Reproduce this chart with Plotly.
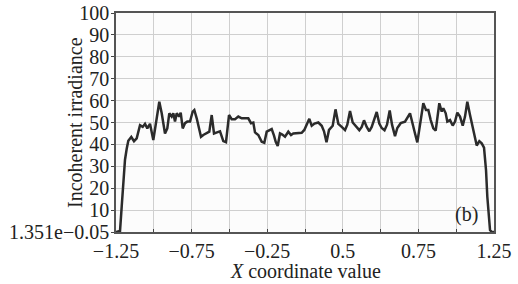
import plotly.graph_objects as go

x_coord = [-1.25, -1.2235, -1.2123, -1.2017, -1.1905, -1.1792, -1.1686, -1.1488, -1.1309, -1.1131,
           -1.0913, -1.0734, -1.0582, -1.0430, -1.0251, -1.0033, -0.9808, -0.9636, -0.9477, -0.9259,
           -0.9107, -0.8975, -0.8816, -0.8710, -0.8598, -0.8485, -0.8333, -0.8221, -0.8088, -0.7936,
           -0.7784, -0.7606, -0.7427, -0.7321, -0.7163, -0.6991, -0.6878, -0.6726, -0.6501, -0.6329,
           -0.6170, -0.6018, -0.5820, -0.5621, -0.5403, -0.5225, -0.5026, -0.4848, -0.4629, -0.4411,
           -0.4186, -0.3968, -0.3750, -0.3571, -0.3419, -0.3307, -0.3088, -0.2863, -0.2691, -0.2533,
           -0.2361, -0.2202, -0.2050, -0.1937, -0.1805, -0.1653, -0.1501, -0.1322, -0.1104, -0.0925,
           -0.0773, -0.0443, -0.0218, -0.0046, 0.0113, 0.0285, 0.0444, 0.0629, 0.0880, 0.1105,
           0.1257, 0.1422, 0.1588, 0.1833, 0.2018, 0.2203, 0.2428, 0.2646, 0.2798, 0.2977,
           0.3155, 0.3374, 0.3592, 0.3751, 0.3903, 0.4081, 0.4253, 0.4412, 0.4743, 0.4915,
           0.5073, 0.5259, 0.5424, 0.5602, 0.5755, 0.5953, 0.6105, 0.6330, 0.6614, 0.6945,
           0.7124, 0.7276, 0.7428, 0.7607, 0.7825, 0.8003, 0.8156, 0.8315, 0.8487, 0.8645,
           0.8883, 0.9042, 0.9148, 0.9306, 0.9412, 0.9591, 0.9769, 0.9921, 1.0074, 1.0252,
           1.0431, 1.0583, 1.0735, 1.0914, 1.1092, 1.1244, 1.1357, 1.1529, 1.1687, 1.1840,
           1.1972, 1.2058, 1.2151, 1.2237, 1.2349, 1.25]

irradiance = [0, 0.5, 11.6, 22, 33, 38, 41.7, 43.4, 41.5, 42.8,
              48.8, 48, 49.4, 47.3, 49.4, 42, 51, 59.5, 54.2, 45,
              47.3, 54.2, 52.7, 54.2, 50.4, 54.2, 52.7, 54.5, 47.3, 49.7,
              50.4, 50.4, 55, 55.7, 51.9, 46.6, 43.5, 44.3, 45.3, 45.8,
              53.4, 45, 45.5, 46, 41.5, 41, 53.4, 51.5, 51.5, 52.7,
              51.9, 51.9, 51.9, 49.7, 50, 45.5, 44.3, 41.2, 40.7, 45.8,
              46.6, 47, 44, 41.2, 39.3, 45, 44.5, 43.5, 45.8, 44.3,
              45, 45, 45.3, 46.6, 49, 51.7, 48.5, 49.5, 50, 48.5,
              46, 41, 46.6, 48.5, 56, 49.4, 48, 46.5, 49, 55.2,
              50, 48, 46.5, 48, 51, 48, 46, 48, 54.8, 49.5,
              47.5, 46.5, 49, 55.5, 49, 43.8, 47.5, 49.7, 50.4, 54.2,
              48.6, 45, 40.9, 48.5, 58.8, 55.7, 55.7, 51.1, 47.3, 46.3,
              58.8, 55, 56.5, 54.2, 50.4, 51.1, 48.6, 50.4, 54.5, 52.7,
              48.6, 52.7, 59.5, 53.4, 47.3, 43.5, 39.5, 41.5, 40.5, 38.5,
              28.3, 16.1, 5.5, 0.9, 0, 0]

x_tickvals = [-1.25, -1.0, -0.75, -0.5, -0.25, 0.0, 0.25, 0.5, 0.75, 1.0, 1.25]
x_ticktext = ["\u22121.25", "", "\u22120.75", "", "\u22120.25", "", "0.5", "", "0.75", "", "1.25"]
y_tickvals = [0, 10, 20, 30, 40, 50, 60, 70, 80, 90, 100]
y_ticktext = ["1.351e\u22120.05", "10", "20", "30", "40", "50", "60", "70", "80", "90", "100"]

FONT = "Liberation Serif, Times New Roman, serif"
FS = 20

fig = go.Figure()
fig.add_trace(go.Scatter(x=x_coord, y=irradiance, mode="lines",
                         line=dict(color="#2b2b2b", width=2.5),
                         showlegend=False))

fig.add_annotation(x=1.07, y=8, text="(b)", showarrow=False,
                   font=dict(family=FONT, size=FS, color="#222"))
fig.add_annotation(xref="paper", yref="paper", x=-0.11, y=0.5, text="Incoherent irradiance",
                   textangle=-90, showarrow=False, xanchor="center", yanchor="middle",
                   font=dict(family=FONT, size=FS, color="#222"))
fig.add_annotation(xref="paper", yref="paper", x=0.5, y=-0.18, text="<i>X</i> coordinate value",
                   showarrow=False, xanchor="center", yanchor="middle",
                   font=dict(family=FONT, size=FS, color="#222"))

fig.update_layout(
    width=518, height=284,
    margin=dict(l=116, r=24, t=13, b=52),
    paper_bgcolor="white", plot_bgcolor="#fcfcfc",
    font=dict(family=FONT, size=FS, color="#222"),
    xaxis=dict(range=[-1.25, 1.25], tickvals=x_tickvals, ticktext=x_ticktext,
               showgrid=True, gridcolor="#cfcfcf", gridwidth=1,
               ticks="inside", ticklen=3, tickcolor="#444",
               showline=True, linecolor="#555", linewidth=1.5, mirror=True,
               zeroline=False, automargin=False),
    yaxis=dict(range=[0, 100], tickvals=y_tickvals, ticktext=y_ticktext,
               showgrid=True, gridcolor="#cfcfcf", gridwidth=1,
               ticks="outside", ticklen=3, tickcolor="#444",
               showline=True, linecolor="#555", linewidth=1.5, mirror=True,
               zeroline=False, automargin=False, ticklabelstandoff=-2),
)

fig.write_html("out.html", config={"displayModeBar": False},
               post_script="document.body.style.margin='0';document.body.style.padding='0';")
